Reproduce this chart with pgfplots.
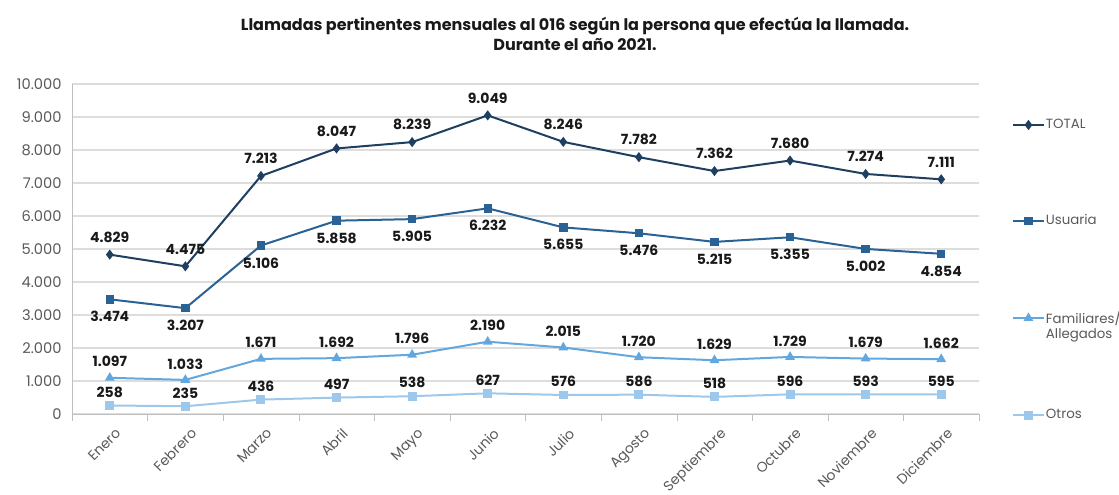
\documentclass[border=0pt]{standalone}
\usepackage{pgfplots}
\pgfplotsset{compat=1.18}
\usepackage{fontspec}
\setmainfont{Poppins}
\definecolor{cTotal}{HTML}{1F3F60}
\definecolor{cUsu}{HTML}{2A6296}
\definecolor{cFam}{HTML}{62A8DE}
\definecolor{cOtr}{HTML}{9DC8EC}
\definecolor{gridc}{HTML}{DDDDDD}
\definecolor{axc}{HTML}{BFBFBF}
\definecolor{txt}{HTML}{595959}
\begin{document}
\begin{tikzpicture}
\path[use as bounding box] (0pt,0pt) rectangle (839.25pt,371.25pt);
\node[font=\bfseries\fontsize{12}{15}\selectfont, align=center, text=black!90] at (431.25pt,345.5pt) {Llamadas pertinentes mensuales al 016 según la persona que efectúa la llamada.\\Durante el año 2021.};
\begin{axis}[
  at={(54pt,60.75pt)}, anchor=south west,
  scale only axis, width=680.25pt, height=247.5pt,
  xmin=-0.5, xmax=11.5, ymin=0, ymax=10000,
  axis x line=bottom, axis y line=left,
  axis line style={draw=axc, -}, 
  xtick={0,...,11},
  xticklabels={Enero,Febrero,Marzo,Abril,Mayo,Junio,Julio,Agosto,Septiembre,Octubre,Noviembre,Diciembre},
  x tick label style={rotate=45, anchor=north east, font=\fontsize{10.5}{12}\selectfont, text=txt, xshift=2pt, yshift=-3pt},
  major x tick style={draw=none},
  minor xtick={-0.5,0.5,...,11.5},
  minor x tick style={draw=axc},
  minor tick length=5pt,
  tick align=outside,
  ytick={0,1000,...,10000},
  major y tick style={draw=none},
  ymajorgrids, grid style={draw=gridc, line width=0.8pt},
  y tick label style={font=\fontsize{11}{12}\selectfont, text=txt},
  /pgf/number format/1000 sep={.},
  /pgf/number format/assume math mode=true,
  scaled y ticks=false,
  nodes near coords,
  nodes near coords style={font=\bfseries\fontsize{10.5}{13}\selectfont, text=black!90},
  legend image code/.code={\draw[mark repeat=2,mark phase=2] plot coordinates {(0cm,0cm)(0.4cm,0cm)(0.8cm,0cm)};},
  legend style={draw=none, fill=none, at={(1.032,0.906)}, anchor=north west, font=\fontsize{10}{11.5}\selectfont, text=txt, row sep=61pt,
    nodes={text width=60pt, align=left, inner sep=1pt}},
  legend cell align=left,
  clip=false,
]
\addplot[color=cTotal, line width=1.5pt, mark=diamond*, mark size=2.6pt, nodes near coords style={anchor=south, yshift=5pt}] coordinates {
(0,4829)(1,4475)(2,7213)(3,8047)(4,8239)(5,9049)(6,8246)(7,7782)(8,7362)(9,7680)(10,7274)(11,7111)};
\addlegendentry{TOTAL}
\addplot[color=cUsu, line width=1.5pt, mark=square*, mark size=2.4pt, nodes near coords style={anchor=north, yshift=-5pt}] coordinates {
(0,3474)(1,3207)(2,5106)(3,5858)(4,5905)(5,6232)(6,5655)(7,5476)(8,5215)(9,5355)(10,5002)(11,4854)};
\addlegendentry{Usuaria}
\addplot[color=cFam, line width=1.5pt, mark=triangle*, mark size=2.8pt, nodes near coords style={anchor=south, yshift=4pt}] coordinates {
(0,1097)(1,1033)(2,1671)(3,1692)(4,1796)(5,2190)(6,2015)(7,1720)(8,1629)(9,1729)(10,1679)(11,1662)};
\addlegendentry{Familiares/\\Allegados}
\addplot[color=cOtr, line width=1.5pt, mark=square*, mark size=2.6pt, nodes near coords style={anchor=south, yshift=2pt}] coordinates {
(0,258)(1,235)(2,436)(3,497)(4,538)(5,627)(6,576)(7,586)(8,518)(9,596)(10,593)(11,595)};
\addlegendentry{Otros}
\end{axis}
\end{tikzpicture}
\end{document}
